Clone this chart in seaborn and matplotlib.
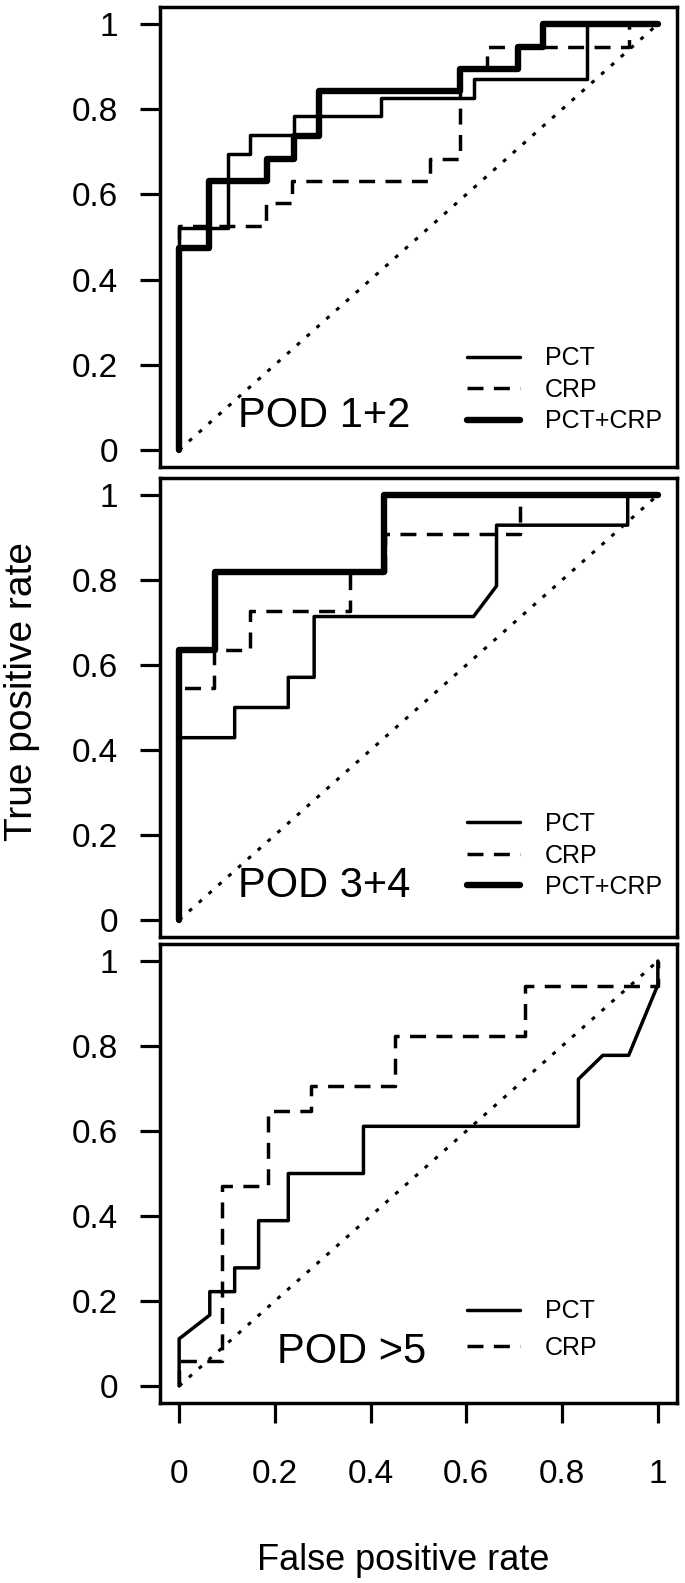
import matplotlib
matplotlib.use("Agg")
import matplotlib.pyplot as plt
import seaborn as sns

# ROC vertices (false positive rate, true positive rate)
pct1_fpr = [0, 0, .102, .102, .147, .147, .240, .240, .422, .422, .615, .615, .851, .851, 1]
pct1_tpr = [0, .522, .522, .696, .696, .739, .739, .783, .783, .826, .826, .870, .870, 1, 1]
crp1_fpr = [0, 0, .182, .182, .235, .235, .525, .525, .587, .587, .644, .644, .940, .940, 1]
crp1_tpr = [0, .526, .526, .579, .579, .632, .632, .684, .684, .895, .895, .947, .947, 1, 1]
both1_fpr = [0, 0, .063, .063, .183, .183, .240, .240, .293, .293, .587, .587, .707, .707, .761, .761, 1]
both1_tpr = [0, .474, .474, .632, .632, .684, .684, .737, .737, .842, .842, .895, .895, .947, .947, 1, 1]

pct2_fpr = [0, 0, .116, .116, .228, .228, .282, .282, .615, .663, .663, .937, .937, 1]
pct2_tpr = [0, .429, .429, .500, .500, .571, .571, .714, .714, .786, .929, .929, 1, 1]
crp2_fpr = [0, 0, .072, .072, .147, .147, .357, .357, .430, .430, .713, .713, 1]
crp2_tpr = [0, .545, .545, .636, .636, .727, .727, .818, .818, .909, .909, 1, 1]
both2_fpr = [0, 0, .075, .075, .427, .427, 1]
both2_tpr = [0, .636, .636, .818, .818, 1, 1]

pct3_fpr = [0, 0, .064, .064, .116, .116, .166, .166, .228, .228, .385, .385, .834, .834, .885, .939, 1, 1]
pct3_tpr = [0, .111, .167, .222, .222, .278, .278, .389, .389, .500, .500, .611, .611, .722, .778, .778, .944, 1]
crp3_fpr = [0, 0, .090, .090, .185, .185, .275, .275, .451, .451, .723, .723, 1, 1]
crp3_tpr = [0, .059, .059, .471, .471, .647, .647, .706, .706, .824, .824, .941, .941, 1]

chance = [0, 1]
titles = ['POD 1+2', 'POD 3+4', 'POD >5']
ticks = [0, 0.2, 0.4, 0.6, 0.8, 1]
tick_labels = ['0', '0.2', '0.4', '0.6', '0.8', '1']

sns.set_theme(style='ticks')
plt.rcParams['font.family'] = ['Liberation Sans', 'DejaVu Sans']
plt.rcParams['text.color'] = 'black'
plt.rcParams['axes.labelcolor'] = 'black'
plt.rcParams['xtick.color'] = 'black'
plt.rcParams['ytick.color'] = 'black'
plt.rcParams['legend.labelcolor'] = 'black'

W, H = 685, 1583
fig = plt.figure(figsize=(W / 100, H / 100), dpi=100)

# axes boxes in pixels: (top, bottom)
boxes = [(7, 467), (478, 937), (944, 1403)]
left, right = 160, 677

curves = [
    [(pct1_fpr, pct1_tpr, 'PCT'), (crp1_fpr, crp1_tpr, 'CRP'), (both1_fpr, both1_tpr, 'PCT+CRP')],
    [(pct2_fpr, pct2_tpr, 'PCT'), (crp2_fpr, crp2_tpr, 'CRP'), (both2_fpr, both2_tpr, 'PCT+CRP')],
    [(pct3_fpr, pct3_tpr, 'PCT'), (crp3_fpr, crp3_tpr, 'CRP')],
]
styles = {'PCT': ('-', 2.5), 'CRP': ((0, (4.6, 3.0)), 2.5), 'PCT+CRP': ('-', 4.6)}
title_x = [0.122, 0.122, 0.205]
legend_top = [0.262, 0.272, 0.226]
legend_spacing = [0.3, 0.3, 0.5]

for i, (top, bottom) in enumerate(boxes):
    ax = fig.add_axes([left / W, 1 - bottom / H, (right - left) / W, (bottom - top) / H])
    sns.lineplot(x=chance, y=chance, color='black', linewidth=2.2,
                 linestyle=(0, (1.3, 3.0)), ax=ax)
    for fpr, tpr, name in curves[i]:
        ls, lw = styles[name]
        sns.lineplot(x=fpr, y=tpr, sort=False, estimator=None, color='black',
                     linewidth=lw, linestyle=ls, label=name, ax=ax)
    ax.set_xlim(-0.04, 1.04)
    ax.set_ylim(-0.04, 1.04)
    ax.set_xticks(ticks)
    ax.set_yticks(ticks)
    ax.set_yticklabels(tick_labels)
    ax.set_xticklabels(tick_labels)
    ax.set_xlabel('')
    ax.set_ylabel('')
    for sp in ax.spines.values():
        sp.set_visible(True)
        sp.set_linewidth(2.5)
        sp.set_color('black')
    ax.tick_params(axis='both', length=14.4, width=2.3, labelsize=24,
                   color='black', labelcolor='black')
    ax.tick_params(axis='y', pad=16)
    ax.tick_params(axis='x', pad=26)
    if i < 2:
        ax.tick_params(axis='x', bottom=False, labelbottom=False)
    ax.text(title_x[i], 0.055, titles[i], fontsize=30, ha='left', va='baseline', color='black')
    handles, labels = ax.get_legend_handles_labels()
    ax.legend(handles, labels, loc='upper left', bbox_to_anchor=(0.594, legend_top[i]),
              frameon=False, fontsize=18, handlelength=2.1, handletextpad=1.0,
              labelspacing=legend_spacing[i], borderpad=0, borderaxespad=0,
              labelcolor='black')

fig.text(403 / W, 1 - 1570 / H, 'False positive rate', fontsize=26, ha='center',
         va='baseline', color='black')
fig.text(22 / W, 1 - 692 / H, 'True positive rate', fontsize=28, rotation=90,
         ha='center', va='center', color='black')

fig.savefig('out.png', dpi=100)
